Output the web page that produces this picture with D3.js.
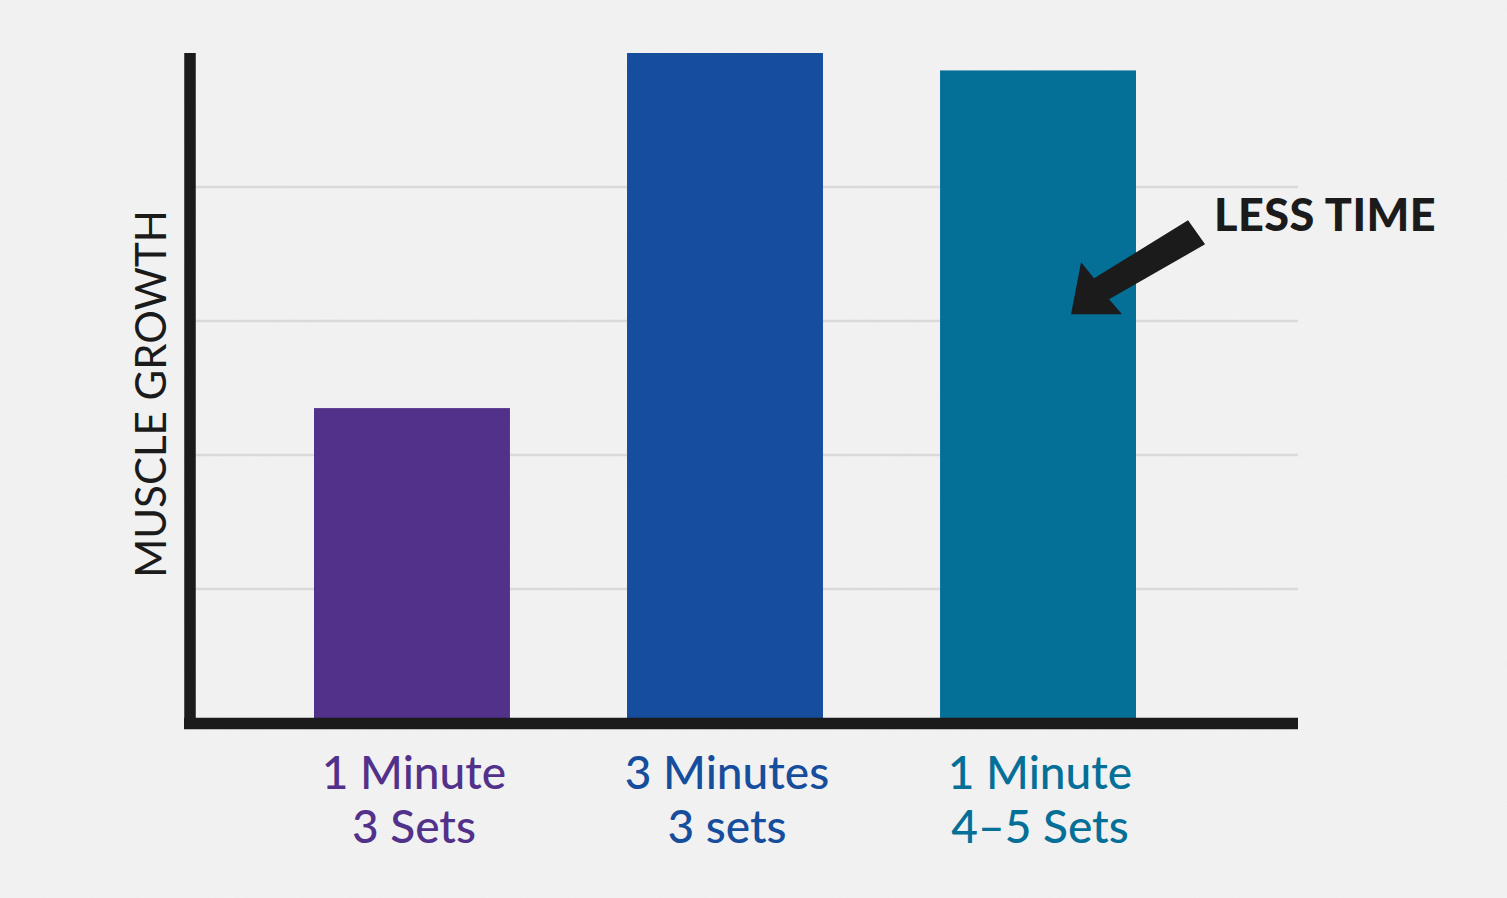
<!DOCTYPE html>
<html>
<head>
<meta charset="utf-8">
<script src="https://cdn.jsdelivr.net/npm/d3@7"></script>
<style>
  html, body { margin: 0; padding: 0; background: #f2f2f2; }
  svg { display: block; }
</style>
</head>
<body>
<div id="chart"></div>
<script>
var width = 1507;
var height = 898;

// data
var categories = ["1min3", "3min3", "1min45"];
var values = [2.35, 5.0, 4.87];
var labelLines = [["1 Minute", "3 Sets"], ["3 Minutes", "3 sets"], ["1 Minute", "4\u20135 Sets"]];
var colors = ["#51318a", "#164d9c", "#046f97"];
var gridTicks = [1, 2, 3, 4];
var yTitle = "MUSCLE GROWTH";
var noteText = "LESS TIME";
var noteValue = 3.05; // where the arrow points, in y units

var svg = d3.select("#chart")
    .append("svg")
    .attr("width", width)
    .attr("height", height);

// paper texture
var defs = svg.append("defs");
var f = defs.append("filter").attr("id", "paper").attr("x", 0).attr("y", 0).attr("width", "100%").attr("height", "100%");
f.append("feTurbulence").attr("type", "fractalNoise").attr("baseFrequency", 0.9).attr("numOctaves", 2).attr("seed", 3);
f.append("feColorMatrix").attr("type", "matrix")
    .attr("values", "0 0 0 0 0.5  0 0 0 0 0.5  0 0 0 0 0.5  0 0 0 0.09 0");

svg.append("rect").attr("width", width).attr("height", height).attr("fill", "#f3f3f3");
svg.append("rect").attr("width", width).attr("height", height).attr("filter", "url(#paper)").attr("opacity", 0.7);

var xScale = d3.scaleBand().domain(categories).range([314, 1136]).paddingInner(0.374).paddingOuter(0);
var yScale = d3.scaleLinear().domain([0, 5]).range([723, 53]);

var plotLeft = 195, plotRight = 1298;

// grid lines
svg.append("g")
    .selectAll("line")
    .data(gridTicks)
    .enter()
    .append("line")
    .attr("x1", plotLeft)
    .attr("x2", plotRight)
    .attr("y1", function(d) { return yScale(d); })
    .attr("y2", function(d) { return yScale(d); })
    .attr("stroke", "#dadada")
    .attr("stroke-width", 2.5);

// bars
svg.append("g")
    .selectAll("rect")
    .data(values)
    .enter()
    .append("rect")
    .attr("x", function(d, i) { return xScale(categories[i]); })
    .attr("y", function(d) { return yScale(d); })
    .attr("width", xScale.bandwidth())
    .attr("height", function(d) { return yScale(0) - yScale(d); })
    .attr("fill", function(d, i) { return colors[i]; });

// axis lines
svg.append("line")
    .attr("x1", 190).attr("x2", 190)
    .attr("y1", yScale(5)).attr("y2", yScale(0) + 6)
    .attr("stroke", "#1b1b1b").attr("stroke-width", 11.5);
svg.append("line")
    .attr("x1", 184).attr("x2", plotRight)
    .attr("y1", yScale(0) + 0.5).attr("y2", yScale(0) + 0.5)
    .attr("stroke", "#1b1b1b").attr("stroke-width", 11.5);

// category labels
var labelFont = "Lato, 'Noto Sans', sans-serif";
var lab = svg.append("g")
    .selectAll("text")
    .data(labelLines)
    .enter()
    .append("text")
    .attr("text-anchor", "middle")
    .attr("font-family", labelFont)
    .attr("font-size", 46)
    .attr("font-weight", 500)
    .attr("fill", function(d, i) { return colors[i]; });

lab.selectAll("tspan")
    .data(function(d, i) { return d.map(function(t) { return {t: t, i: i}; }); })
    .enter()
    .append("tspan")
    .attr("x", function(d) { return xScale(categories[d.i]) + xScale.bandwidth() / 2 + 2; })
    .attr("y", function(d, j) { return 789 + j * 54; })
    .text(function(d) { return d.t; });

// y title
svg.append("text")
    .attr("transform", "translate(166," + 394 + ") rotate(-90)")
    .attr("text-anchor", "middle")
    .attr("font-family", labelFont)
    .attr("font-size", 42)
    .attr("font-weight", 400)
    .attr("fill", "#1b1b1b")
    .text(yTitle);

// annotation arrow, shape relative to its tip
var tipX = xScale(categories[2]) + 131;
var tipY = yScale(noteValue);
var arrowShape = [[0, 0], [10, -52], [23, -36], [117, -94], [134, -70], [38, -15], [51, 0]];
svg.append("path")
    .attr("d", d3.line()(arrowShape.map(function(p) { return [tipX + p[0], tipY + p[1]]; })) + "Z")
    .attr("fill", "#1b1b1b");

svg.append("text")
    .attr("x", 1214)
    .attr("y", 231)
    .attr("font-family", labelFont)
    .attr("font-size", 45)
    .attr("font-weight", 900)
    .attr("letter-spacing", 0.5)
    .attr("fill", "#1b1b1b")
    .text(noteText);
</script>
</body>
</html>
